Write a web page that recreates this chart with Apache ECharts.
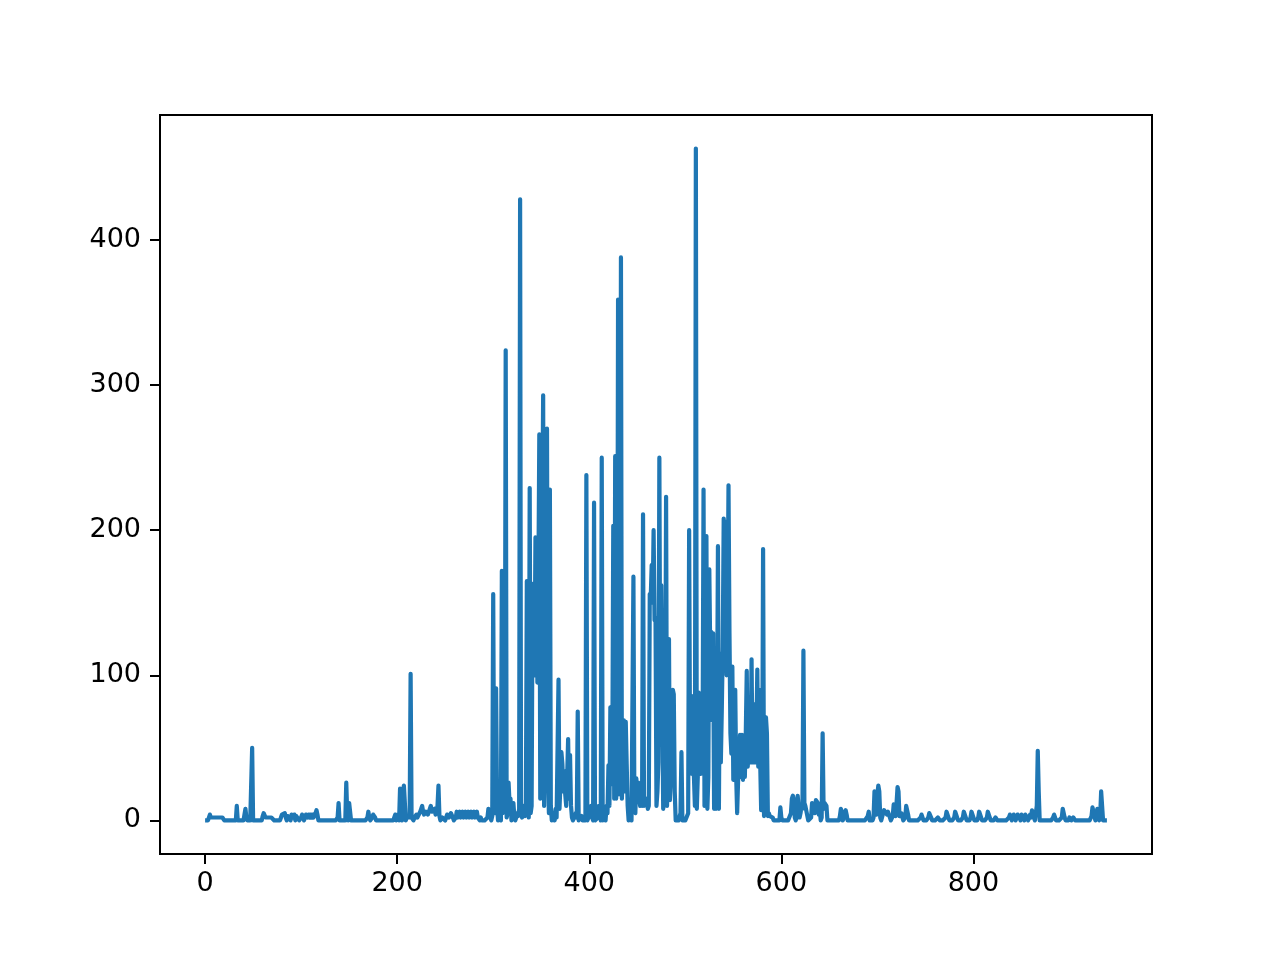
<!DOCTYPE html>
<html>
<head>
<meta charset="utf-8">
<script src="https://cdn.jsdelivr.net/npm/echarts@6/dist/echarts.min.js"></script>
<style>
  html, body { margin: 0; padding: 0; background: #ffffff; }
  #chart { width: 1280px; height: 960px; }
</style>
</head>
<body>
<div id="chart"></div>
<script>
// ---- data (index = x) ----
const valuesPart1 = [ // x 0..299
  0,0,0,0,0,4,2,2,2,2,
  2,2,2,2,2,2,2,2,2,2,
  0,0,0,0,0,0,0,0,0,0,
  0,0,0,10,0,0,0,0,0,0,
  0,0,8,2,0,0,0,0,0,50,
  0,0,0,0,0,0,0,0,0,0,
  3,5,4,2,2,2,2,2,2,2,
  2,2,0,0,0,0,0,0,0,2,
  4,4,4,5,2,0,3,4,4,0,
  4,4,2,4,0,3,4,2,0,0,
  2,4,2,0,2,4,4,2,4,2,
  4,2,4,2,2,5,7,4,0,0,
  0,0,0,0,0,0,0,0,0,0,
  0,0,0,0,0,0,0,0,2,12,
  0,0,0,0,0,0,0,26,4,0,
  12,12,0,0,0,0,0,0,0,0,
  0,0,0,0,0,0,0,0,0,2,
  6,2,0,0,2,4,4,2,0,0,
  0,0,0,0,0,0,0,0,0,0,
  0,0,0,0,0,0,0,2,4,0,
  0,4,0,22,5,0,20,24,24,0,
  2,2,2,2,101,2,2,0,2,3,
  4,2,2,3,6,8,10,6,4,5,
  6,5,4,6,8,10,6,5,6,8,
  4,3,10,24,3,0,0,2,2,2,
  0,2,4,4,2,2,5,5,2,0,
  0,2,6,2,2,6,2,2,6,2,
  2,6,2,2,6,2,2,6,2,2,
  6,2,2,6,2,2,0,2,0,0,
  0,0,0,0,2,8,8,2,0,3
];
const valuesPart2 = [ // x 300..599
  156,10,5,91,10,0,0,2,0,172,
  5,8,10,324,2,5,26,12,15,0,
  5,12,3,0,2,5,3,8,428,5,
  2,8,10,3,5,165,8,2,229,5,
  10,163,155,100,195,190,95,160,266,15,
  120,200,293,10,100,40,270,32,5,228,
  10,0,0,5,0,8,2,3,97,8,
  25,47,39,20,34,18,10,30,56,15,
  45,10,2,0,0,3,5,2,75,0,
  0,0,3,0,0,0,0,238,0,0,
  0,5,10,2,0,219,0,0,0,2,
  10,5,0,250,0,0,2,0,10,5,
  38,10,78,25,38,203,15,251,15,30,
  359,18,25,388,15,40,69,20,68,38,
  10,0,0,2,0,0,168,7,5,29,
  20,26,15,10,17,10,211,10,15,12,
  15,8,10,156,153,176,150,200,138,140,
  10,20,40,250,60,162,162,8,15,30,
  223,10,60,125,14,30,60,90,87,20,
  0,0,0,0,0,5,47,0,0,0,
  0,0,0,5,200,38,86,32,40,30,
  10,463,8,30,88,40,32,38,50,228,
  10,25,196,8,30,173,114,130,69,129,
  8,114,8,60,189,8,115,40,76,120,
  208,136,206,100,140,231,129,60,46,106,
  28,50,90,30,5,28,40,59,30,59,
  28,40,30,60,103,37,50,80,40,111,
  40,46,80,40,60,104,37,90,40,7,
  10,187,3,30,71,60,3,5,3,4,
  3,2,0,0,0,0,0,0,0,9
];
const valuesPart3 = [ // x 600..939
  2,0,0,0,0,0,0,0,0,0,
  5,15,17,14,2,0,3,17,16,2,
  5,10,8,117,12,10,11,10,0,0,
  0,2,12,12,10,5,14,15,12,4,
  8,0,2,60,8,12,12,10,0,0,
  0,0,0,0,0,0,0,0,0,0,
  0,3,8,6,0,0,4,7,4,0,
  0,0,0,0,0,0,0,0,0,0,
  0,0,0,0,0,0,0,0,0,0,
  3,6,0,0,0,0,2,20,21,4,
  18,24,20,2,0,0,5,7,6,6,
  4,6,6,5,0,0,3,11,10,3,
  12,23,20,3,2,5,5,0,0,2,
  10,10,4,0,0,0,0,0,0,0,
  0,0,0,0,0,2,4,3,0,0,
  0,0,0,2,5,5,2,0,0,0,
  0,0,0,2,2,0,0,0,0,0,
  0,2,6,6,2,0,0,0,0,0,
  2,6,6,2,0,0,0,0,0,2,
  6,6,2,0,0,0,0,2,6,6,
  2,0,0,0,0,2,6,6,2,0,
  0,0,0,0,2,6,6,2,0,0,
  0,0,0,2,2,0,0,0,0,0,
  0,0,0,0,0,0,0,2,4,4,
  0,2,4,2,0,2,4,4,2,0,
  4,4,2,0,4,4,2,0,2,4,
  2,7,7,2,0,0,10,48,20,0,
  0,0,0,0,0,0,0,0,0,0,
  0,0,0,2,4,2,0,0,0,0,
  0,0,2,8,8,2,0,0,0,0,
  2,2,0,0,2,2,0,0,0,0,
  0,0,0,0,0,0,0,0,0,0,
  0,0,0,3,9,9,3,0,0,8,
  8,0,3,20,20,0,0,0,0,0
];
const xTickValues = [0, 200, 400, 600, 800];
const yTickValues = [0, 100, 200, 300, 400];

// ---- build ----
const values = valuesPart1.concat(valuesPart2, valuesPart3);
const seriesData = values.map((v, i) => [i, v]);
const n = values.length - 1;
const vMax = Math.max(...values);
const xPad = n * 0.05, yPad = vMax * 0.05;

const chart = echarts.init(document.getElementById('chart'), null, { renderer: 'canvas' });
const font = { fontFamily: 'DejaVu Sans', fontSize: 27, color: '#000' };
chart.setOption({
  animation: false,
  backgroundColor: '#ffffff',
  grid: {
    left: 160, top: 115, width: 992, height: 739,
    show: true, borderColor: '#000', borderWidth: 2, backgroundColor: 'transparent',
    containLabel: false
  },
  xAxis: {
    type: 'value',
    position: 'bottom',
    min: -xPad, max: n + xPad,
    splitLine: { show: false },
    axisLine: { show: false, onZero: false },
    axisTick: { show: true, length: 10, inside: false, customValues: xTickValues,
      lineStyle: { color: '#000', width: 2 } },
    axisLabel: { ...font, margin: 16, customValues: xTickValues,
      formatter: v => String(v) }
  },
  yAxis: {
    type: 'value',
    position: 'left',
    min: -yPad, max: vMax + yPad,
    splitLine: { show: false },
    axisLine: { show: false, onZero: false },
    axisTick: { show: true, length: 10, inside: false, customValues: yTickValues,
      lineStyle: { color: '#000', width: 2 } },
    axisLabel: { ...font, margin: 19, customValues: yTickValues,
      formatter: v => String(v) }
  },
  series: [{
    type: 'line',
    data: seriesData,
    showSymbol: false,
    symbol: 'none',
    sampling: null,
    lineStyle: { color: '#1f77b4', width: 4.2, join: 'round', cap: 'butt' },
    z: 3
  }]
});
</script>
</body>
</html>
